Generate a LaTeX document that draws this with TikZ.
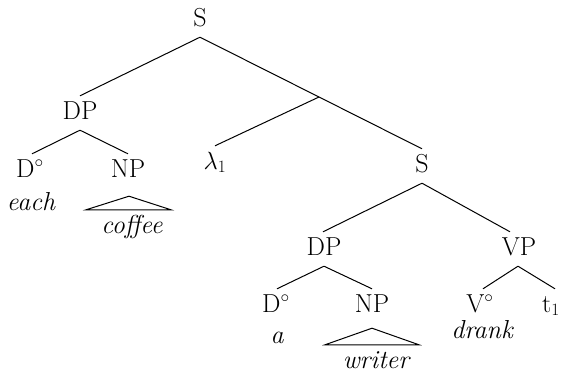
\documentclass[tikz,border=0pt]{standalone}
\usetikzlibrary{calc}
\begin{document}
\begin{tikzpicture}[x=1pt,y=-1pt,
  lbl/.style={anchor=base, inner xsep=0pt, inner ysep=6pt, text height=17pt, text depth=5pt,
    font=\fontsize{26}{31}\selectfont},
  wrd/.style={lbl, font=\fontsize{26}{31}\selectfont\itshape},
  edge/.style={line width=1pt},
  tri/.style={line width=1pt, line join=miter}]
\useasboundingbox (0,0) rectangle (563,375);
% nodes
\node[lbl] (S0) at (200,26) {S};
\node[lbl] (DPa) at (80,119) {DP};
\coordinate (J) at (319,97);
\node[lbl] (lam) at (215,169) {$\lambda_1$};
\node[lbl] (S1) at (422,172) {S};
\node[lbl] (Da) at (30,177) {D$^\circ$};
\node[lbl] (NPa) at (128,177) {NP};
\node[wrd] (each) at (31,210) {each};
\node[wrd] (coffee) at (132,233) {coffee};
\node[lbl] (DPb) at (324,255) {DP};
\node[lbl] (VP) at (519,255) {VP};
\node[lbl] (Db) at (276,312) {D$^\circ$};
\node[lbl] (NPb) at (372,312) {NP};
\node[lbl] (Vb) at (480,312) {V$^\circ$};
\node[lbl] (t1) at (551,312) {t$_1$};
\node[wrd] (a) at (277,343) {a};
\node[wrd] (drank) at (482,338) {drank};
\node[wrd] (writer) at (376,368) {writer};
% edges
\draw[edge] (S0.south) -- (DPa.north);
\draw[edge] (S0.south) -- (J) -- (S1.north);
\draw[edge] (J) -- (lam.north);
\draw[edge] (DPa.south) -- ($(Da.north)+(2,0)$);
\draw[edge] (DPa.south) -- (NPa.north);
\draw[edge] (S1.south) -- ($(DPb.north)+(-1,0)$);
\draw[edge] (S1.south) -- ($(VP.north)+(-9,0)$);
\draw[edge] (DPb.south) -- ($(Db.north)+(1,0)$);
\draw[edge] (DPb.south) -- (NPb.north);
\draw[edge] ($(VP.south)+(-1,0)$) -- ($(Vb.north)+(3,0)$);
\draw[edge] ($(VP.south)+(-1,0)$) -- ($(t1.north)+(4,0)$);
% triangles
\coordinate (cb) at (NPa.south |- coffee.north);
\draw[tri] ($(NPa.south)+(1,8)$) -- ($(cb)+(-42,0)$) -- ($(cb)+(43,0)$) -- cycle;
\coordinate (wb) at (NPb.south |- writer.north);
\draw[tri] ($(NPb.south)+(0,5)$) -- ($(wb)+(-47,0)$) -- ($(wb)+(47,0)$) -- cycle;
\end{tikzpicture}
\end{document}
